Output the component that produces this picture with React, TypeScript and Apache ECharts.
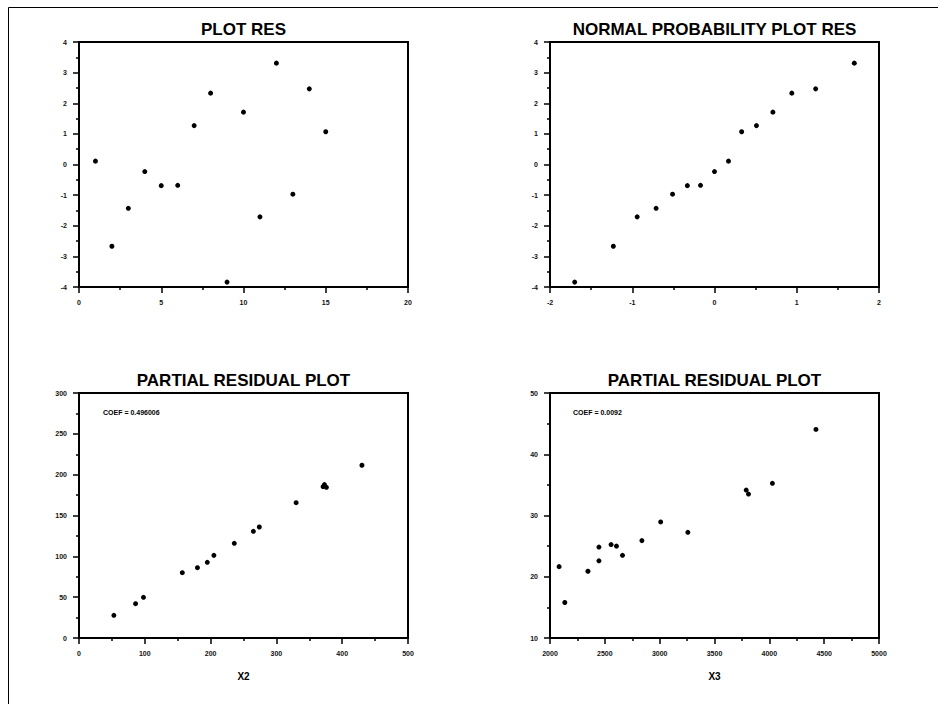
import React, { useEffect, useRef } from "react";
import * as echarts from "echarts";

const resIndex = [1, 2, 3, 4, 5, 6, 7, 8, 9, 10, 11, 12, 13, 14, 15];
const resValues = [0.11, -2.67, -1.43, -0.23, -0.69, -0.68, 1.27, 2.33, -3.84, 1.71, -1.71, 3.31, -0.97, 2.47, 1.07];
const normQuantiles = [-1.7, -1.23, -0.94, -0.71, -0.51, -0.33, -0.17, 0, 0.17, 0.33, 0.51, 0.71, 0.94, 1.23, 1.7];
const sortedRes = [-3.84, -2.67, -1.71, -1.43, -0.97, -0.69, -0.68, -0.23, 0.11, 1.07, 1.27, 1.71, 2.33, 2.47, 3.31];
const x2Values = [53, 86, 98, 157, 180, 195, 205, 236, 265, 274, 330, 371, 373, 376, 430];
const x2Partial = [27.8, 42, 49.8, 80, 86.1, 92.7, 101.2, 115.9, 130.6, 135.9, 165.7, 185.3, 187.8, 184.5, 211.5];
const x3Values = [2083, 2135, 2346, 2446, 2446, 2557, 2606, 2661, 2838, 3009, 3257, 3789, 3810, 4028, 4425];
const x3Partial = [21.65, 15.8, 20.9, 24.85, 22.6, 25.25, 25.0, 23.5, 25.9, 28.95, 27.25, 34.15, 33.5, 35.25, 44.05];

const titles = ["PLOT RES", "NORMAL PROBABILITY PLOT RES", "PARTIAL RESIDUAL PLOT", "PARTIAL RESIDUAL PLOT"];
const coefTexts = ["COEF = 0.496006", "COEF = 0.0092"];
const xNames = ["", "", "X2", "X3"];
const xRanges = [[0, 20, 5], [-2, 2, 1], [0, 500, 100], [2000, 5000, 500]];
const yRanges = [[-4, 4, 1], [-4, 4, 1], [0, 300, 50], [10, 50, 10]];

const FONT = "'Liberation Sans', Arial, sans-serif";

export default function App() {
  const ref = useRef<HTMLDivElement>(null);
  useEffect(() => {
    if (!ref.current) return;
    const chart = echarts.init(ref.current, null, { renderer: "svg" });
    const lefts = [79, 550, 79, 550];
    const tops = [42, 42, 393, 393];
    const W = 329;
    const H = 245;
    const grids = lefts.map((l, i) => ({
      left: l,
      top: tops[i],
      width: W,
      height: H,
      show: true,
      borderColor: "#000",
      borderWidth: 2,
      backgroundColor: "transparent",
    }));
    const axisCommon = {
      axisLine: { show: true, onZero: false, lineStyle: { color: "#000", width: 2 } },
      axisTick: { show: true, inside: false, length: 6, lineStyle: { color: "#000", width: 1.5 } },
      minorTick: { show: true, splitNumber: 2, length: 3, lineStyle: { color: "#000", width: 1.5 } },
      splitLine: { show: false },
      minorSplitLine: { show: false },
    };
    const labelStyle = {
      show: true,
      fontSize: 7,
      fontWeight: "bold",
      color: "#111",
      fontFamily: FONT,
      margin: 12,
      showMinLabel: true,
      showMaxLabel: true,
      formatter: (v: number) => String(v),
    };
    const xAxes = xRanges.map((r, i) => ({
      type: "value",
      gridIndex: i,
      min: r[0],
      max: r[1],
      interval: r[2],
      ...axisCommon,
      axisLabel: labelStyle,
      name: xNames[i],
      nameLocation: "middle",
      nameGap: 33,
      nameTextStyle: { fontSize: 10, fontWeight: "bold", color: "#000", fontFamily: FONT },
    }));
    const yAxes = yRanges.map((r, i) => ({
      type: "value",
      gridIndex: i,
      min: r[0],
      max: r[1],
      interval: r[2],
      ...axisCommon,
      axisLabel: labelStyle,
    }));
    const xs = [resIndex, normQuantiles, x2Values, x3Values];
    const ys = [resValues, sortedRes, x2Partial, x3Partial];
    const series = xs.map((xv, i) => ({
      type: "scatter",
      xAxisIndex: i,
      yAxisIndex: i,
      symbol: "circle",
      symbolSize: 5,
      itemStyle: { color: "#000", opacity: 1 },
      data: xv.map((x, j) => [x, ys[i][j]]),
    }));
    const title = titles.map((t, i) => ({
      text: t,
      left: lefts[i] + W / 2,
      top: tops[i] - 21,
      textAlign: "center",
      padding: 0,
      textStyle: { fontSize: 17, fontWeight: "bold", color: "#000", fontFamily: FONT },
    }));
    chart.setOption({
      animation: false,
      backgroundColor: "#fff",
      title,
      grid: grids,
      xAxis: xAxes,
      yAxis: yAxes,
      series,
      graphic: [
        {
          type: "rect",
          shape: { x: 8.5, y: 7.5, width: 1000, height: 1000 },
          style: { fill: "none", stroke: "#000", lineWidth: 1 },
          silent: true,
        },
        {
          type: "text",
          x: 103,
          y: 412,
          style: {
            text: coefTexts[0],
            fontSize: 7,
            fontWeight: "bold",
            fill: "#000",
            fontFamily: FONT,
            textAlign: "left",
            textVerticalAlign: "middle",
          },
        },
        {
          type: "text",
          x: 573,
          y: 412,
          style: {
            text: coefTexts[1],
            fontSize: 7,
            fontWeight: "bold",
            fill: "#000",
            fontFamily: FONT,
            textAlign: "left",
            textVerticalAlign: "middle",
          },
        },
      ],
    });
    return () => chart.dispose();
  }, []);
  return (
    <div
      ref={ref}
      style={{ position: "fixed", left: 0, top: 0, width: 938, height: 704 }}
    />
  );
}
